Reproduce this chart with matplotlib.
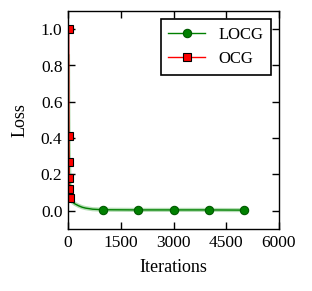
import matplotlib
matplotlib.use("Agg")
import matplotlib.pyplot as plt

locg_iter = [0, 10, 20, 40, 60, 80, 100, 150, 200, 300, 400, 500, 700, 1000, 2000, 3000, 4000, 5000]
locg_loss = [0.85, 0.55, 0.35, 0.18, 0.10, 0.07, 0.055, 0.045, 0.038, 0.028, 0.02, 0.015, 0.009, 0.006, 0.005, 0.005, 0.005, 0.004]
locg_marks = [13, 14, 15, 16, 17]

ocg_iter = [20, 25, 30, 35, 40, 45]
ocg_loss = [1.0, 0.41, 0.27, 0.18, 0.12, 0.07]

plt.rcParams['font.family'] = ['Liberation Serif']
plt.rcParams['font.size'] = 12

fig = plt.figure(figsize=(3.12, 2.91), dpi=100)
ax = fig.add_axes([68/312, 1-229/291, 211/312, 218/291])

ax.plot(ocg_iter, ocg_loss, color='red', lw=1, marker='s', ms=5.5,
        markerfacecolor='red', markeredgecolor='black', markeredgewidth=0.8,
        label='OCG', zorder=2)
ax.plot(locg_iter, locg_loss, color='#2ca02c', lw=3, alpha=0.35, zorder=1)
ax.plot(locg_iter, locg_loss, color='green', lw=1, marker='o', ms=6,
        markevery=locg_marks, markerfacecolor='green', markeredgecolor='#005a00',
        markeredgewidth=0.8, label='LOCG', zorder=1.5)

ax.set_xlim(0, 6000)
ax.set_ylim(-0.1, 1.1)
ax.set_xticks([0, 1500, 3000, 4500, 6000])
ax.set_yticks([0.0, 0.2, 0.4, 0.6, 0.8, 1.0])
ax.set_yticklabels(['0.0', '0.2', '0.4', '0.6', '0.8', '1.0'])
ax.tick_params(direction='in', top=True, right=True, length=5, width=1,
               labelsize=12.5, pad=4)
for s in ax.spines.values():
    s.set_linewidth(1)
ax.set_xlabel('Iterations', fontsize=13, labelpad=6)
ax.set_ylabel('Loss', fontsize=13, labelpad=9)

handles, labels = ax.get_legend_handles_labels()
leg = ax.legend(handles[::-1], labels[::-1], loc='upper right', fontsize=12,
                fancybox=False, framealpha=1, edgecolor='black', borderpad=0.45,
                handlelength=2.2, labelspacing=0.5, borderaxespad=0.5)
leg.get_frame().set_linewidth(1.2)

fig.savefig('out.png', dpi=100)
